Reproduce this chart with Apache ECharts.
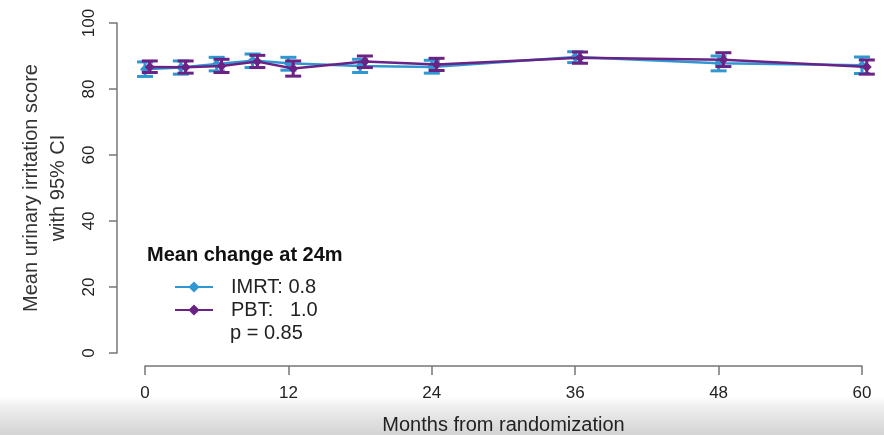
<!DOCTYPE html>
<html>
<head>
<meta charset="utf-8">
<script src="https://cdn.jsdelivr.net/npm/echarts@6/dist/echarts.min.js"></script>
<style>
  html, body { margin: 0; padding: 0; background: #fff; }
  #main { width: 884px; height: 435px; }
</style>
</head>
<body>
<div id="main"></div>
<script>
// data
var months = [0, 3, 6, 9, 12, 18, 24, 36, 48, 60];
var xTicks = [0, 12, 24, 36, 48, 60];
var yTicks = [0, 20, 40, 60, 80, 100];

var imrtMean = [86.0, 86.5, 87.6, 88.6, 87.8, 87.0, 86.7, 89.7, 87.8, 87.2];
var imrtLow  = [83.8, 84.5, 85.5, 86.5, 85.7, 85.0, 84.8, 88.0, 85.5, 84.7];
var imrtHigh = [88.2, 88.5, 89.6, 90.6, 89.6, 89.0, 88.7, 91.3, 90.0, 89.7];

var pbtMean  = [86.7, 86.6, 87.0, 88.3, 86.2, 88.3, 87.4, 89.5, 88.9, 86.7];
var pbtLow   = [85.0, 84.8, 85.0, 86.5, 83.9, 86.5, 85.6, 87.8, 86.8, 84.5];
var pbtHigh  = [88.5, 88.5, 89.0, 90.2, 88.5, 90.0, 89.3, 91.2, 91.0, 88.8];

var groups = ['IMRT', 'PBT'];
var changeAt24 = ['0.8', '1.0'];
var pValue = '0.85';

var colors = ['#2f98d3', '#6a2384'];
var dodge = [0, 0.4]; // R plot shifts the second group a little to the right

function pts(mean, shift) {
    var out = [];
    for (var i = 0; i < months.length; i++) {
        out.push([months[i] + shift, mean[i]]);
    }
    return out;
}

function bars(low, high, shift) {
    var out = [];
    for (var i = 0; i < months.length; i++) {
        out.push([months[i] + shift, low[i], high[i]]);
    }
    return out;
}

function errorBar(color) {
    return function (params, api) {
        var top = api.coord([api.value(0), api.value(2)]);
        var bot = api.coord([api.value(0), api.value(1)]);
        var half = 8;
        var st = { stroke: color, lineWidth: 3 };
        return {
            type: 'group',
            children: [
                { type: 'line', shape: { x1: top[0], y1: top[1], x2: bot[0], y2: bot[1] }, style: st },
                { type: 'line', shape: { x1: top[0] - half, y1: top[1], x2: top[0] + half, y2: top[1] }, style: st },
                { type: 'line', shape: { x1: bot[0] - half, y1: bot[1], x2: bot[0] + half, y2: bot[1] }, style: st }
            ]
        };
    };
}

var myChart = echarts.init(document.getElementById('main'));

var textFont = 'Liberation Sans, Arial, sans-serif';

var option = {
    animation: false,
    backgroundColor: '#fff',
    textStyle: { fontFamily: textFont },
    grid: { left: 145, right: 22, top: 23, bottom: 82, outerBoundsMode: 'none' },
    title: {
        text: 'Mean change at 24m',
        left: 147,
        top: 245,
        padding: 0,
        textStyle: { fontSize: 20, fontWeight: 'bold', color: '#111', fontFamily: textFont }
    },
    legend: {
        orient: 'vertical',
        left: 174,
        top: 277,
        padding: 0,
        itemWidth: 38,
        itemHeight: 14,
        itemGap: 3,
        data: groups,
        formatter: function (name) {
            if (name == 'IMRT') return 'IMRT: ' + changeAt24[0];
            return 'PBT:   ' + changeAt24[1];
        },
        textStyle: { fontSize: 20, lineHeight: 20, color: '#222', padding: [0, 0, 0, 13], fontFamily: textFont }
    },
    graphic: [
        {
            type: 'rect',
            silent: true,
            z: -10,
            shape: { x: 0, y: 396, width: 884, height: 39 },
            style: {
                fill: new echarts.graphic.LinearGradient(0, 0, 0, 1, [
                    { offset: 0, color: '#ffffff' },
                    { offset: 0.3, color: '#eeeeee' },
                    { offset: 1, color: '#d3d3d3' }
                ])
            }
        },
        {
            type: 'text',
            left: 230,
            top: 323,
            style: { text: 'p = ' + pValue, fontSize: 20, fill: '#222', fontFamily: textFont }
        }
    ],
    xAxis: {
        type: 'value',
        min: 0,
        max: 60,
        interval: 12,
        offset: 13,
        name: 'Months from randomization',
        nameLocation: 'middle',
        nameGap: 49,
        nameMoveOverlap: false,
        nameTextStyle: { fontSize: 20, color: '#222' },
        splitLine: { show: false },
        axisLine: { show: true, onZero: false, lineStyle: { color: '#777', width: 1.5 } },
        axisTick: { show: true, length: 9, lineStyle: { color: '#777', width: 1.5 } },
        axisLabel: {
            fontSize: 17,
            color: '#222',
            margin: 19,
            customValues: xTicks
        }
    },
    yAxis: {
        type: 'value',
        min: 0,
        max: 100,
        interval: 20,
        offset: 28,
        name: 'Mean urinary irritation score\nwith 95% CI',
        nameLocation: 'middle',
        nameRotate: 90,
        nameGap: 45,
        nameMoveOverlap: false,
        nameTextStyle: { fontSize: 20, color: '#333', lineHeight: 27 },
        splitLine: { show: false },
        axisLine: { show: true, onZero: false, lineStyle: { color: '#777', width: 1.5 } },
        axisTick: { show: true, length: 8, lineStyle: { color: '#777', width: 1.5 } },
        axisLabel: {
            fontSize: 17,
            color: '#222',
            rotate: 90,
            margin: 19,
            customValues: yTicks
        }
    },
    series: [
        {
            name: 'IMRT-ci',
            type: 'custom',
            renderItem: errorBar(colors[0]),
            encode: { x: 0, y: [1, 2] },
            data: bars(imrtLow, imrtHigh, dodge[0]),
            clip: false,
            z: 2
        },
        {
            name: 'IMRT',
            type: 'line',
            data: pts(imrtMean, dodge[0]),
            color: colors[0],
            symbol: 'diamond',
            symbolSize: 10,
            lineStyle: { width: 2.5 },
            clip: false,
            z: 3
        },
        {
            name: 'PBT-ci',
            type: 'custom',
            renderItem: errorBar(colors[1]),
            encode: { x: 0, y: [1, 2] },
            data: bars(pbtLow, pbtHigh, dodge[1]),
            clip: false,
            z: 4
        },
        {
            name: 'PBT',
            type: 'line',
            data: pts(pbtMean, dodge[1]),
            color: colors[1],
            symbol: 'diamond',
            symbolSize: 10,
            lineStyle: { width: 2.5 },
            clip: false,
            z: 5
        }
    ]
};

myChart.setOption(option);
</script>
</body>
</html>
